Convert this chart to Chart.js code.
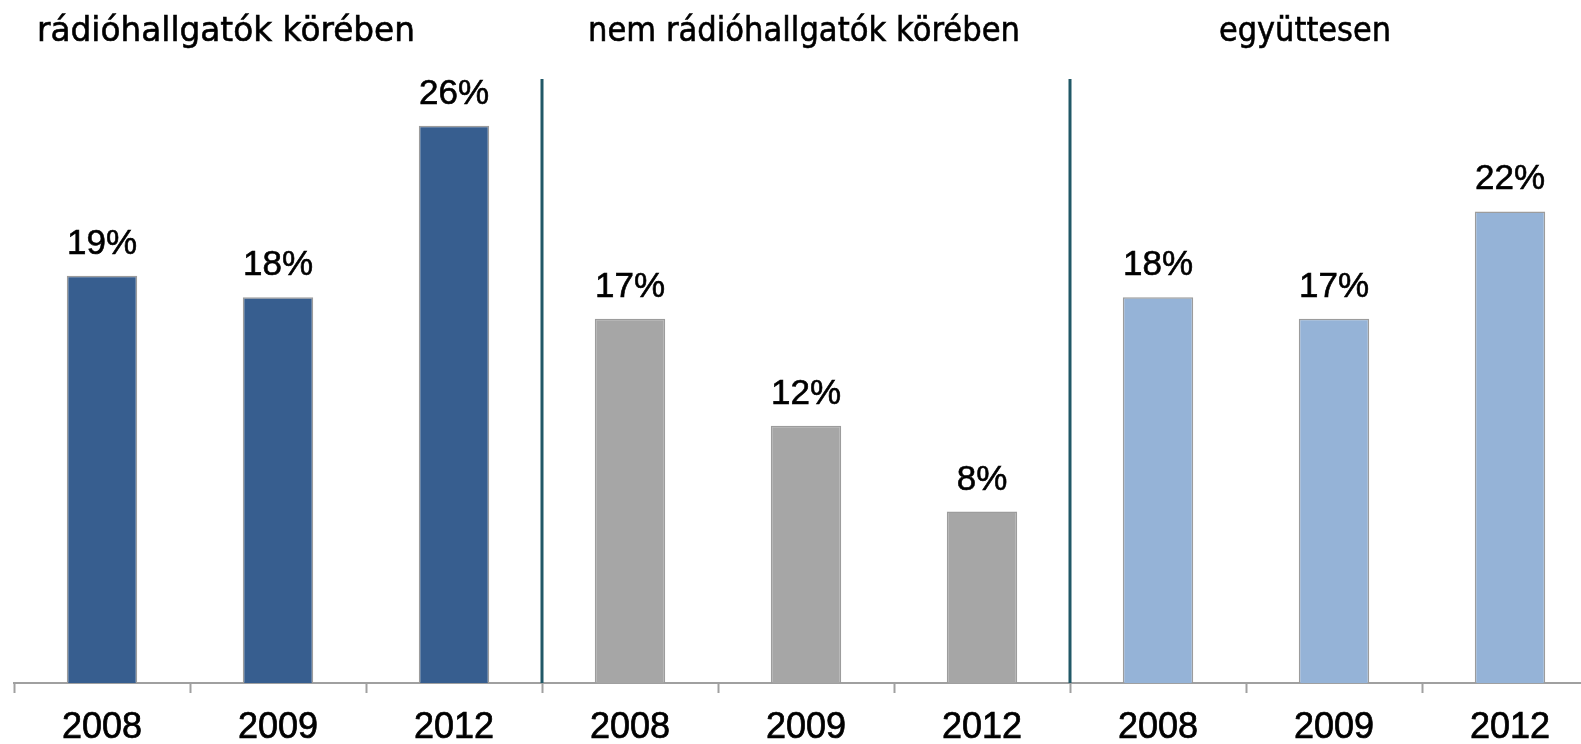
<!DOCTYPE html>
<html>
<head>
<meta charset="utf-8">
<script src="https://cdn.jsdelivr.net/npm/chart.js@4"></script>
<style>
  html, body { margin: 0; padding: 0; background: #fff; overflow: hidden; }
  .wrap { position: relative; width: 1612px; height: 763px; }
</style>
</head>
<body>
<div class="wrap"><canvas id="chart"></canvas></div>
<script>
// years shown under each group
const years = ['2008', '2009', '2012'];
const groupTitles = ['rádióhallgatók körében', 'nem rádióhallgatók körében', 'együttesen'];

// share in percent per group
const listeners = [19, 18, 26];
const nonListeners = [17, 12, 8];
const combined = [18, 17, 22];

const groupColors = ['#375e8f', '#a6a6a6', '#95b3d7'];
// heading centre and max width
const titleX = [226, 804, 1305];
const titleW = [378, 432, 172];

const groups = [listeners, nonListeners, combined];
const labels = groups.flatMap(() => years);
const values = groups.flat();
const colors = groups.flatMap((g, i) => g.map(() => groupColors[i]));

const FONT = '"Liberation Sans", Arial, sans-serif';
const TITLE_FONT = '"DejaVu Sans", sans-serif';

function boldText(ctx, text, x, y, maxW) {
  ctx.fillText(text, x, y, maxW);
  ctx.strokeText(text, x, y, maxW);
}

const extras = {
  id: 'extras',
  afterDatasetsDraw(chart) {
    const { ctx, chartArea, scales } = chart;
    const x = scales.x;
    ctx.save();

    // dividers between the three groups
    ctx.strokeStyle = '#215867';
    ctx.lineWidth = 3;
    [2.5, 5.5].forEach(v => {
      const px = Math.round((x.getPixelForValue(Math.floor(v)) + x.getPixelForValue(Math.ceil(v))) / 2);
      ctx.beginPath();
      ctx.moveTo(px, 79);
      ctx.lineTo(px, chartArea.bottom);
      ctx.stroke();
    });

    // group headings
    ctx.fillStyle = '#000';
    ctx.strokeStyle = '#000';
    ctx.lineWidth = 0.6;
    ctx.font = '33px ' + TITLE_FONT;
    ctx.textAlign = 'center';
    ctx.textBaseline = 'alphabetic';
    groupTitles.forEach((t, i) => boldText(ctx, t, titleX[i], 41, titleW[i]));

    // value labels above the bars
    ctx.font = '35px ' + FONT;
    chart.getDatasetMeta(0).data.forEach((bar, i) => {
      boldText(ctx, values[i] + '%', bar.x, bar.y - 22);
    });
    ctx.restore();
  }
};

new Chart(document.getElementById('chart'), {
  type: 'bar',
  data: {
    labels: labels,
    datasets: [{
      data: values,
      backgroundColor: colors,
      borderColor: '#9c9c9c',
      borderWidth: 1.5,
      barPercentage: 0.4,
      categoryPercentage: 1
    }]
  },
  options: {
    responsive: true,
    maintainAspectRatio: false,
    animation: false,
    layout: { padding: { top: 40, left: 14, right: 14, bottom: 0 } },
    plugins: {
      legend: { display: false },
      tooltip: { enabled: false }
    },
    scales: {
      x: {
        grid: {
          offset: true,
          drawOnChartArea: false,
          tickLength: 10,
          tickColor: '#a0a0a0',
          tickWidth: 2
        },
        border: { display: true, color: '#a0a0a0', width: 2 },
        ticks: {
          color: '#000',
          padding: 17,
          textStrokeColor: '#000',
          textStrokeWidth: 0.7,
          font: { family: FONT, size: 36, lineHeight: 1 }
        }
      },
      y: {
        display: false,
        min: 0,
        max: 30
      }
    }
  },
  plugins: [extras]
});
</script>
</body>
</html>
